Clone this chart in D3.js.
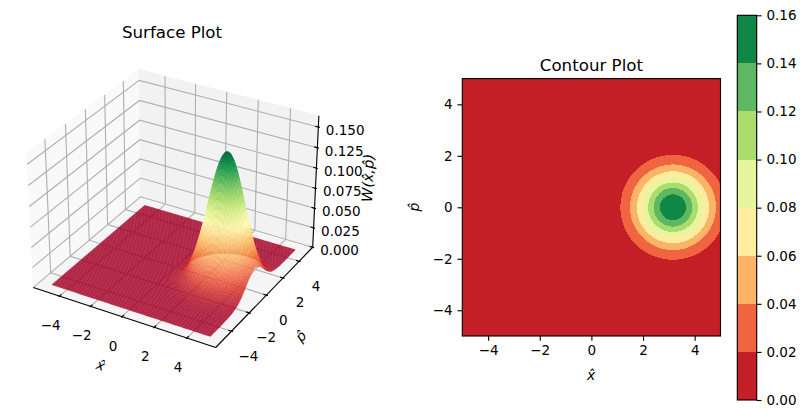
<!DOCTYPE html>
<html><head><meta charset="utf-8">
<script src="https://cdn.jsdelivr.net/npm/d3@7"></script>
<style>
html,body{margin:0;padding:0;background:#fff}
svg{display:block}
text{font-family:"DejaVu Sans";fill:#000}
</style></head><body><svg id="c" width="806" height="418"></svg>
<script>
// ---- data ----
const rampStops = ["#a50026","#d73027","#f46d43","#fdae61","#fee08b","#ffffbf","#d9ef8b","#a6d96a","#66bd63","#1a9850","#006837"];
const peakX = 3.16, peakP = 0;
const profileR = [0,.1,.2,.3,.4,.5,.6,.7,.8,.9,1,1.1,1.2,1.3,1.4,1.5,1.6,1.7,1.8,1.9,2,2.1,2.2,2.3,2.4,2.5,2.6,2.7,2.8,2.9,3,3.2,3.4,3.6,4,4.5];
const profileW = [.1592,.1584,.1560,.1522,.1471,.1405,.1330,.1246,.1156,.1062,.0966,.0870,.0775,.0684,.0598,.0517,.0443,.0376,.0316,.0262,.0215,.0175,.0142,.0113,.0089,.0070,.0054,.0041,.0031,.0024,.0018,.0010,.0005,.0002,.00005,0];
const gridCoords = d3.range(100).map(i => -5 + i*10/99);
const axisTicks = [-4,-2,0,2,4];
const zTicks = [0,.025,.05,.075,.1,.125,.15];
const contourLevels = [0,.02,.04,.06,.08,.10,.12,.14,.16];
const surfaceTitle = "Surface Plot", contourTitle = "Contour Plot";
const xLabel = "x\u0302", pLabel = "p\u0302", wLabel = "W(x\u0302,p\u0302)";

// ---- helpers ----
const svg = d3.select("#c");
const ramp = d3.scaleLinear().domain(rampStops.map((_,i)=>i/10)).range(rampStops).interpolate(d3.interpolateRgb);
const profile = d3.scaleLinear().domain(profileR).range(profileW).clamp(true);
const W = (x,p) => profile(Math.hypot(x-peakX,p-peakP));
const TICK_FS = 13.5;
const BLACK_W = 1.11;

// ---- 3D projection ----
const lim = {x:[-5.729,5.729], y:[-5.729,5.729], z:[0,.1635]};
const boxA = [4,4,2.97], boxS = boxA.map(a=>a*1.8294640721620434*25/24/Math.hypot(4,4,3));
const el = 30.5*Math.PI/180, az = -60*Math.PI/180, dist = 10;
const R = boxS.map(b=>b/2);
const wv = [Math.cos(el)*Math.cos(az), Math.cos(el)*Math.sin(az), Math.sin(el)];
const uv = (()=>{const u=[-wv[1],wv[0],0],l=Math.hypot(u[0],u[1]);return [u[0]/l,u[1]/l,0];})();
const vv = [wv[1]*uv[2]-wv[2]*uv[1], wv[2]*uv[0]-wv[0]*uv[2], wv[0]*uv[1]-wv[1]*uv[0]];
const dot=(a,b)=>a[0]*b[0]+a[1]*b[1]+a[2]*b[2];
const sx3 = d3.scaleLinear().domain(lim.x).range([0,boxS[0]]);
const sy3 = d3.scaleLinear().domain(lim.y).range([0,boxS[1]]);
const sz3 = d3.scaleLinear().domain(lim.z).range([0,boxS[2]]);
function view(x,y,z){
  const d=[sx3(x)-R[0],sy3(y)-R[1],sz3(z)-R[2]];
  const depth = dist-dot(d,wv);
  return [dot(d,uv)/depth, dot(d,vv)/depth, depth];
}
const [x0,x1,y0,y1,z0,z1]=[lim.x[0],lim.x[1],lim.y[0],lim.y[1],lim.z[0],lim.z[1]];
const pxX = d3.scaleLinear().domain([view(x0,y0,z0)[0],view(x1,y1,z0)[0]]).range([33.3,312.7]);
const pxY = d3.scaleLinear().domain([view(x1,y0,z0)[1],view(x0,y1,z1)[1]]).range([347.5,69.5]);
const P = (x,y,z)=>{const v=view(x,y,z);return [pxX(v[0]),pxY(v[1]),v[2]];};
const line = d3.line();
const L = pts => line(pts.map(p=>P(...p).slice(0,2)));

const g3 = svg.append("g");
// panes
[[[x0,y0,z0],[x0,y1,z0],[x0,y1,z1],[x0,y0,z1],"#f9f9f9"],
 [[x0,y1,z0],[x1,y1,z0],[x1,y1,z1],[x0,y1,z1],"#f2f2f2"],
 [[x0,y0,z0],[x1,y0,z0],[x1,y1,z0],[x0,y1,z0],"#f5f5f5"]].forEach(q=>{
  g3.append("path").attr("d",L(q.slice(0,4))+"Z").attr("fill",q[4]).attr("stroke",q[4]).attr("stroke-width",.8);
});
// grid
const gridG = g3.append("g").attr("fill","none").attr("stroke","#b0b0b0").attr("stroke-width",BLACK_W);
axisTicks.forEach(t=>{
  gridG.append("path").attr("d",L([[t,y0,z0],[t,y1,z0],[t,y1,z1]]));
  gridG.append("path").attr("d",L([[x1,t,z0],[x0,t,z0],[x0,t,z1]]));
});
zTicks.forEach(t=>{
  gridG.append("path").attr("d",L([[x0,y0,t],[x0,y1,t],[x1,y1,t]]));
});
// axis lines + ticks
const axG = g3.append("g").attr("fill","none").attr("stroke","#000").attr("stroke-width",BLACK_W);
axG.append("path").attr("d",L([[x0,y0,z0],[x1,y0,z0]]));
axG.append("path").attr("d",L([[x1,y0,z0],[x1,y1,z0]]));
axG.append("path").attr("d",L([[x1,y1,z0],[x1,y1,z1]]));
const dX=(x1-x0)/12, dY=(y1-y0)/12;
const lab3 = g3.append("g").attr("font-size",TICK_FS);
const num = d3.format(".0f"), z3f = d3.format(".3f");
axisTicks.forEach(t=>{
  axG.append("path").attr("d",L([[t,y0-.1*dY,z0],[t,y0+.2*dY,z0]]));
  axG.append("path").attr("d",L([[x1+.1*dX,t,z0],[x1-.2*dX,t,z0]]));
  const a=P(t,y0,z0), b=P(x1,t,z0);
  lab3.append("text").attr("x",a[0]-9).attr("y",a[1]+29).attr("text-anchor","middle").attr("dominant-baseline","central").text(num(t).replace("-","\u2212"));
  lab3.append("text").attr("x",b[0]+17).attr("y",b[1]+24.5).attr("text-anchor","middle").attr("dominant-baseline","central").text(num(t).replace("-","\u2212"));
});
zTicks.forEach(t=>{
  axG.append("path").attr("d",L([[x1+.1*dX,y1,t],[x1-.2*dX,y1,t]]));
  const a=P(x1,y1,t);
  lab3.append("text").attr("x",a[0]+7.5).attr("y",a[1]+3).attr("dominant-baseline","central").text(z3f(t));
});
// surface
const cells=[];
for(let i=0;i<99;i++)for(let j=0;j<99;j++){
  const xs=[gridCoords[i],gridCoords[i+1]], ps=[gridCoords[j],gridCoords[j+1]];
  const c=[[xs[0],ps[0]],[xs[1],ps[0]],[xs[1],ps[1]],[xs[0],ps[1]]].map(q=>[q[0],q[1],W(q[0],q[1])]);
  const pr=c.map(q=>P(...q));
  cells.push({d:line(pr.map(q=>q.slice(0,2)))+"Z",depth:d3.mean(pr,q=>q[2]),v:d3.mean(c,q=>q[2])});
}
cells.sort((a,b)=>d3.descending(a.depth,b.depth));
const surfMax=d3.max(profileW);
g3.append("g").selectAll("path").data(cells).join("path")
  .attr("d",d=>d.d).attr("fill",d=>ramp(d.v/surfMax)).attr("fill-opacity",.85)
  .attr("stroke",d=>ramp(d.v/surfMax)).attr("stroke-opacity",.8).attr("stroke-width",.2);
// 3D text
svg.append("text").attr("x",172).attr("y",38).attr("text-anchor","middle").attr("font-size",16.67).text(surfaceTitle);
const rotLab=(x,y,r,t,fs)=>svg.append("text").attr("transform",`translate(${x},${y}) rotate(${r})`)
  .attr("text-anchor","middle").attr("dominant-baseline","central").attr("font-size",fs).attr("font-style","italic").text(t);
rotLab(100.7,365,18.4,xLabel,13.89);
rotLab(300.7,336,-46,pLabel,13.89);
rotLab(368,178,-87.7,wLabel,14.5);

// ---- contour plot ----
const plot={l:462.3,r:720.5,t:78.6,b:336};
const cx=d3.scaleLinear().domain([-5,5]).range([plot.l,plot.r]);
const cy=d3.scaleLinear().domain([-5,5]).range([plot.b,plot.t]);
const gridVals=[];
gridCoords.forEach(p=>gridCoords.forEach(x=>gridVals.push(W(x,p))));
const bandColor = i => ramp((i+.5)/(contourLevels.length-1));
const defs=svg.append("defs");
defs.append("clipPath").attr("id","pc").append("rect").attr("x",plot.l).attr("y",plot.t).attr("width",plot.r-plot.l).attr("height",plot.b-plot.t);
const gc=svg.append("g").attr("clip-path","url(#pc)");
gc.append("rect").attr("x",plot.l).attr("y",plot.t).attr("width",plot.r-plot.l).attr("height",plot.b-plot.t).attr("fill",bandColor(0));
const gi=d3.scaleLinear().domain([.5,99.5]).range([-5,5]);
const contourPath=d3.geoPath(d3.geoTransform({point(x,y){this.stream.point(cx(gi(x)),cy(gi(y)));}}));
const contours=d3.contours().size([100,100]).smooth(true).thresholds(contourLevels.slice(1,-1))(gridVals);
gc.selectAll("path").data(contours).join("path")
  .attr("d",contourPath).attr("fill",(d,i)=>bandColor(i+1)).attr("shape-rendering","crispEdges");
svg.append("rect").attr("x",plot.l).attr("y",plot.t).attr("width",plot.r-plot.l).attr("height",plot.b-plot.t)
  .attr("fill","none").attr("stroke","#000").attr("stroke-width",BLACK_W);
const style=(g)=>{g.select(".domain").remove();g.selectAll("line").attr("stroke","#000").attr("stroke-width",BLACK_W);g.selectAll("text").attr("font-size",TICK_FS).attr("font-family","DejaVu Sans");g.attr("font-family",null).attr("font-size",null);};
svg.append("g").attr("transform",`translate(0,${plot.b})`).call(d3.axisBottom(cx).tickValues(axisTicks).tickFormat(d3.format("d")).tickSize(4.86).tickPadding(4.86)).call(style);
svg.append("g").attr("transform",`translate(${plot.l},0)`).call(d3.axisLeft(cy).tickValues(axisTicks).tickFormat(d3.format("d")).tickSize(4.86).tickPadding(4.86)).call(style);
svg.append("text").attr("x",591.4).attr("y",70.5).attr("text-anchor","middle").attr("font-size",16.67).text(contourTitle);
rotLab(591,375,0,xLabel,13.89);
rotLab(414,207,-90,pLabel,13.89);

// ---- colour bar ----
const cb={l:737.3,r:756.7,t:15.3,b:400};
const cby=d3.scaleLinear().domain([0,.16]).range([cb.b,cb.t]);
svg.append("g").selectAll("rect").data(d3.pairs(contourLevels)).join("rect")
  .attr("x",cb.l).attr("width",cb.r-cb.l).attr("y",d=>cby(d[1])).attr("height",d=>cby(d[0])-cby(d[1]))
  .attr("fill",(d,i)=>bandColor(i)).attr("shape-rendering","crispEdges");
svg.append("rect").attr("x",cb.l).attr("y",cb.t).attr("width",cb.r-cb.l).attr("height",cb.b-cb.t)
  .attr("fill","none").attr("stroke","#000").attr("stroke-width",BLACK_W);
svg.append("g").attr("transform",`translate(${cb.r},0)`).call(d3.axisRight(cby).tickValues(contourLevels).tickFormat(d3.format(".2f")).tickSize(4.86).tickPadding(4.86)).call(style);
</script></body></html>
